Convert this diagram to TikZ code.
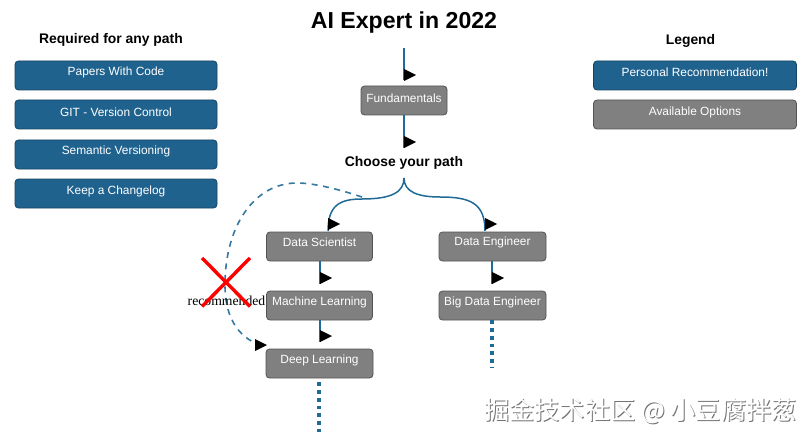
\documentclass[tikz,border=0pt]{standalone}
\usepackage{fontspec}
\setmainfont{Liberation Sans}
\newfontfamily\serifface{Liberation Serif}
\newfontfamily\cjkface{Noto Sans CJK SC}
\definecolor{flowblue}{HTML}{1F6A96}
\definecolor{boxblue}{HTML}{1F628E}
\definecolor{boxgray}{HTML}{808080}
\tikzset{
  x=1pt,y=-1pt,
  basebox/.style={draw=#1,rounded corners=3.5pt,line width=0.8pt,inner sep=0pt},
  bluebox/.style={basebox=boxblue!70!black,fill=boxblue},
  graybox/.style={basebox=boxgray!65!black,fill=boxgray},
  sized/.style args={#1x#2}{minimum width=#1pt,minimum height=#2pt},
  boxtext/.style={text=white,font=\fontsize{11.9}{14}\selectfont,inner sep=0pt},
  heading/.style={font=\bfseries\fontsize{13.9}{16}\selectfont,inner sep=0pt},
  flow/.style={draw=flowblue,line width=1.5pt},
  dashflow/.style={draw=flowblue!90!white,line width=1.6pt,dash pattern=on 6pt off 5.5pt},
  dotflow/.style={draw=flowblue,line width=3.5pt,dash pattern=on 3.7pt off 4pt},
  headtip/.pic={\fill[black] (0,-6) -- (12,0) -- (0,6) -- cycle;},
  wmark/.style={font=\cjkface\fontsize{25.2}{28}\selectfont,inner sep=0pt},
}
\begin{document}
\begin{tikzpicture}
\useasboundingbox (0,0) rectangle (811,441);
\node[bluebox,sized=202x29] (pwc) at (116,75.5) {}; \node[boxtext] (pwct) at (116,72) {Papers With Code};
\node[bluebox,sized=202x29] (git) at (116,114.5) {}; \node[boxtext] (gitt) at (116,112) {GIT - Version Control};
\node[bluebox,sized=202x29] (sem) at (116,154.5) {}; \node[boxtext] (semt) at (116,151) {Semantic Versioning};
\node[bluebox,sized=202x29] (log) at (116,193.5) {}; \node[boxtext] (logt) at (116,191) {Keep a Changelog};
\node[bluebox,sized=203x29] (rec) at (695,75.5) {}; \node[boxtext] (rect) at (695,72) {Personal Recommendation!};
\node[graybox,sized=203x29] (avail) at (695,114.5) {}; \node[boxtext] (availt) at (695,112) {Available Options};
\node[graybox,sized=86x29] (fund) at (404,100.5) {}; \node[boxtext] (fundt) at (404,98) {Fundamentals};
\node[graybox,sized=106x29] (ds) at (319.5,246.5) {}; \node[boxtext] (dst) at (319.5,242.5) {Data Scientist};
\node[graybox,sized=106x29] (ml) at (319.5,305.5) {}; \node[boxtext] (mlt) at (319.5,302) {Machine Learning};
\node[graybox,sized=107x29] (dl) at (319.5,363.5) {}; \node[boxtext] (dlt) at (319.5,360) {Deep Learning};
\node[graybox,sized=107x29] (de) at (492.5,246.5) {}; \node[boxtext] (det) at (492.5,242.5) {Data Engineer};
\node[graybox,sized=107x29] (bde) at (492.5,305.5) {}; \node[boxtext] (bdet) at (492.5,302) {Big Data Engineer};
% headings
\node[font=\bfseries\fontsize{23.1}{26}\selectfont,inner sep=0pt] (title) at (404,23) {AI Expert in 2022};
\node[heading] (req) at (111,40) {Required for any path};
\node[heading] (leg) at (690.5,41) {Legend};
\node[heading] (choose) at (404,163) {Choose your path};
% free ends
\coordinate (start) at (404,48);
\coordinate (fork) at (404,178);
\coordinate (dsend) at (328,231);
\coordinate (deend) at (485,231);
\coordinate (dashstart) at (362,197);
\coordinate (dlend) at (266,347);
\coordinate (dsdots) at (319,432);
\coordinate (bdedots) at (492,368);
% connectors
\draw[flow] (start) -- (404,80);
\draw[flow] (fund.south) -- (404,148);
\draw[flow] (fork) .. controls (404,192) and (392,199) .. (362,199)
   .. controls (340,199) and (328,205) .. (dsend);
\draw[flow] (fork) .. controls (404,192) and (418,197) .. (440,197)
   .. controls (470,197) and (485,203) .. (deend);
\draw[flow] (ds.south -| 320,0) -- (320,284);
\draw[flow] (ml.south -| 320,0) -- (320,342);
\draw[flow] (de.south -| 492,0) -- (492,284);
\draw[dashflow] (dashstart) .. controls (335,188) and (312,183) .. (297,183)
   .. controls (255,183) and (225,225) .. (225,285)
   .. controls (225,320) and (240,340) .. (dlend);
\draw[dotflow] (dl.south -| 319,0) ++(0,4) -- (dsdots);
\draw[dotflow] (bde.south -| 492,0) ++(0,0) -- (bdedots);
% arrowheads
\pic at (404,75) {headtip};
\pic at (404,142) {headtip};
\pic at (328,224) {headtip};
\pic at (485,224) {headtip};
\pic at (320,278) {headtip};
\pic at (320,336) {headtip};
\pic at (492,278) {headtip};
\pic at (255,345) {headtip};
% label and cross
\node[font=\serifface\fontsize{13.7}{15}\selectfont,inner sep=0pt] (recd) at (226.5,300.5) {recommended};
\coordinate (xa) at (202,258); \coordinate (xb) at (250,306.5);
\coordinate (xc) at (250,258); \coordinate (xd) at (202,306.5);
\draw[red,line width=3.4pt] (xa) -- (xb) (xc) -- (xd);
% watermark
\node[wmark,text=black!55] (wms) at (641.5,412) {掘金技术社区 @ 小豆腐拌葱};
\node[wmark,text=white] (wm) at (640.5,411) {掘金技术社区 @ 小豆腐拌葱};
\end{tikzpicture}
\end{document}
